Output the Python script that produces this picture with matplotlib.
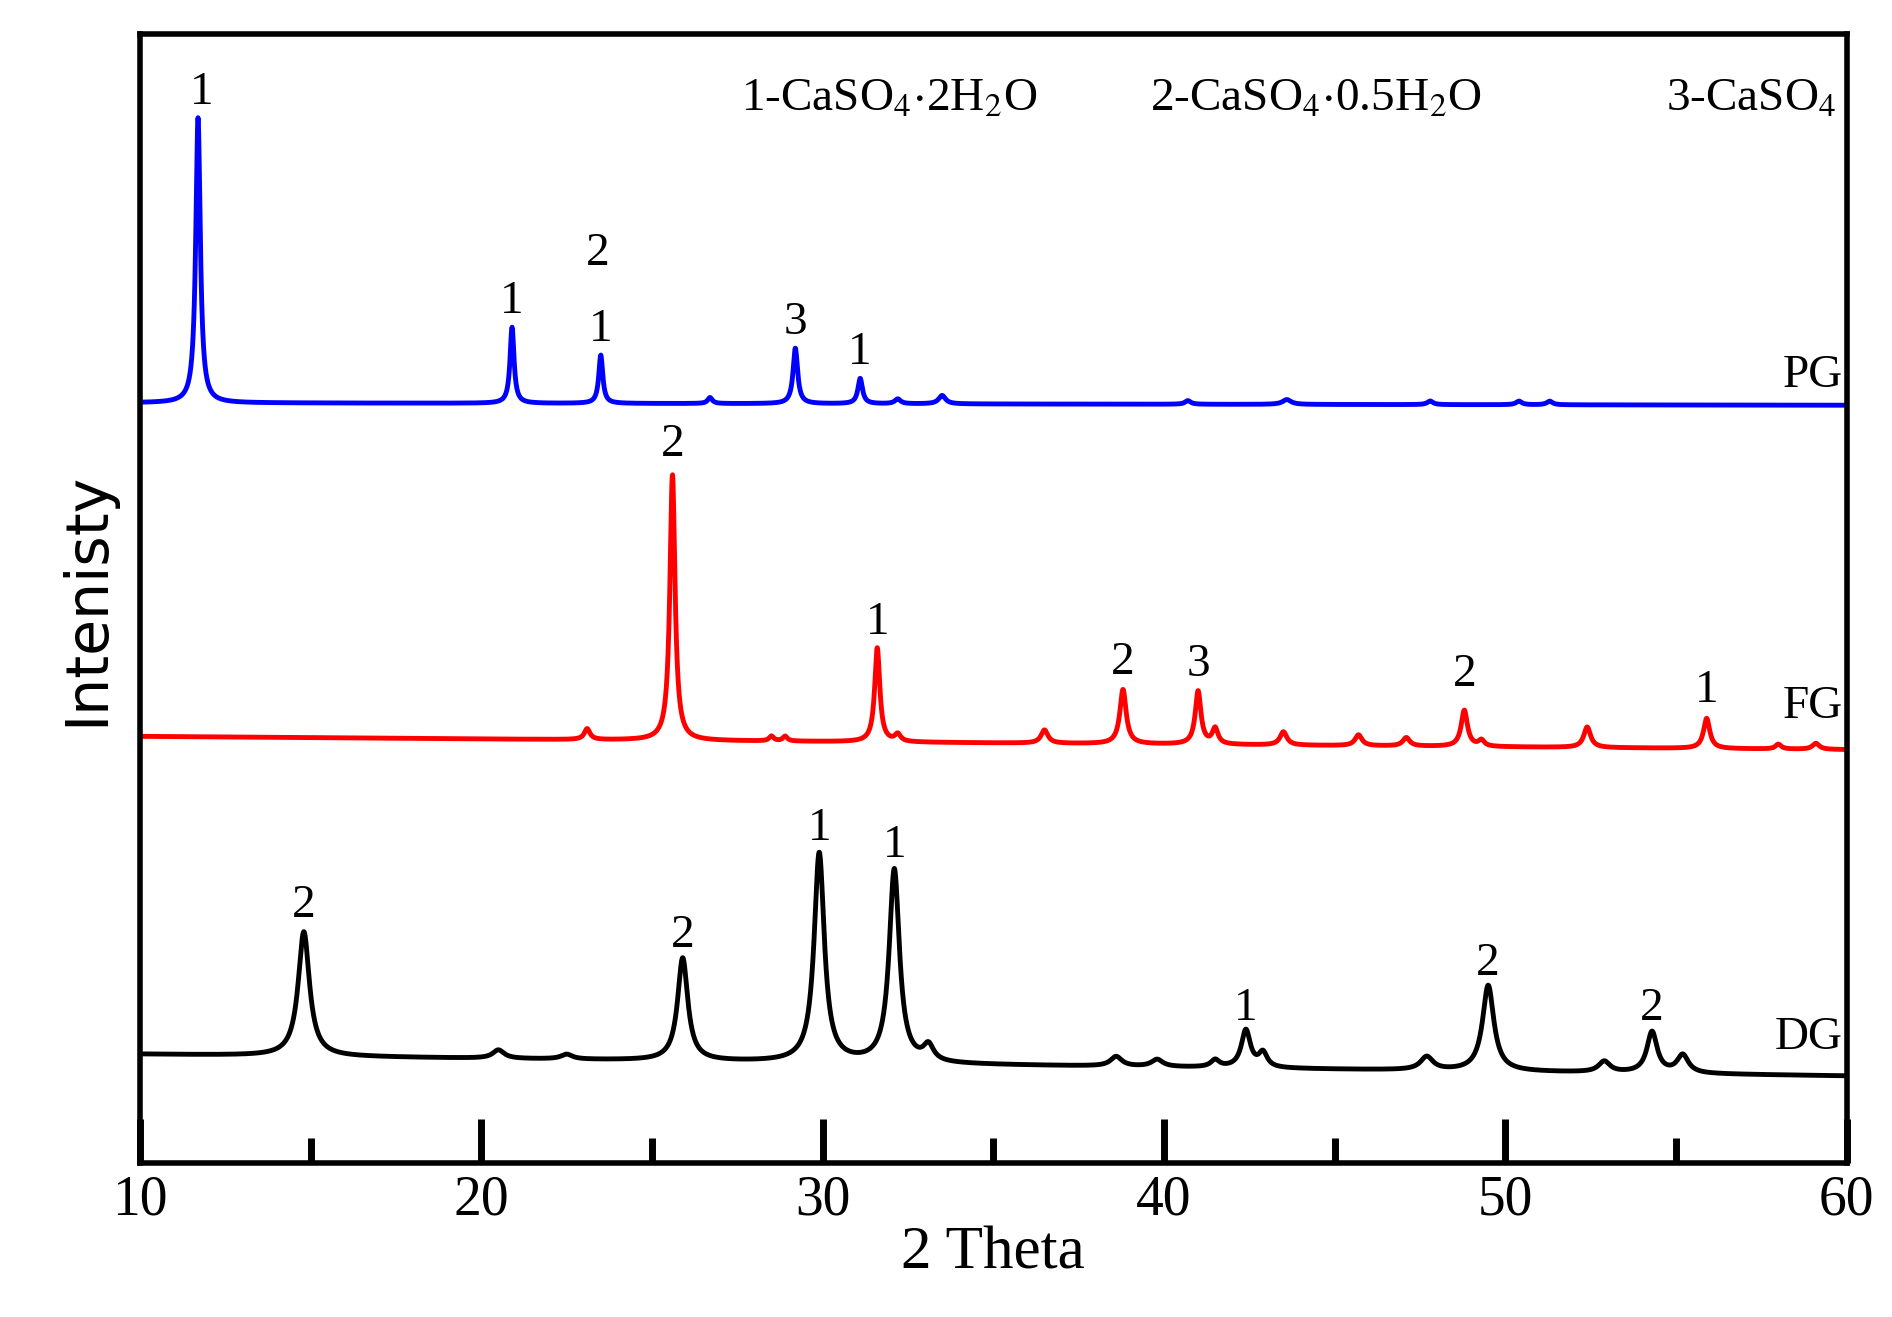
import numpy as np
import matplotlib
matplotlib.use("Agg")
import matplotlib.pyplot as plt

plt.rcParams["mathtext.fontset"] = "stix"

# peak lists: (2theta, height above baseline, half width)
pg_peaks = [(11.7, 236, 0.08), (20.9, 63, 0.07), (23.5, 40, 0.07), (26.7, 5, 0.08),
            (29.2, 46, 0.08), (31.1, 21, 0.08), (32.2, 4, 0.1), (33.5, 7, 0.12),
            (40.7, 3, 0.1), (43.6, 4, 0.15), (47.8, 3, 0.1), (50.4, 3, 0.1), (51.3, 3, 0.1)]
pg_base = (629, 627)

fg_peaks = [(23.1, 9, 0.1), (25.6, 220, 0.09), (28.5, 4, 0.08), (28.9, 4, 0.08),
            (31.6, 78, 0.09), (32.2, 6, 0.1), (36.5, 11, 0.12), (38.8, 45, 0.11),
            (41.0, 44, 0.1), (41.5, 13, 0.1), (43.5, 11, 0.12), (45.7, 9, 0.12),
            (47.1, 7, 0.12), (48.8, 30, 0.11), (49.3, 5, 0.1), (52.4, 17, 0.12),
            (55.9, 25, 0.11), (58.0, 4, 0.1), (59.1, 5, 0.12)]
fg_base = (353, 342)

dg_peaks = [(14.8, 103, 0.2), (20.5, 7, 0.2), (22.5, 4, 0.2), (25.9, 85, 0.18),
            (29.9, 173, 0.18), (32.1, 160, 0.18), (33.1, 13, 0.18), (38.6, 8, 0.2),
            (39.8, 6, 0.2), (41.5, 6, 0.15), (42.4, 31, 0.16), (42.9, 12, 0.15),
            (47.7, 11, 0.22), (49.5, 71, 0.2), (52.9, 9, 0.2), (54.3, 34, 0.18),
            (55.2, 15, 0.2)]
dg_base = (90, 72)

# phase labels: (x, y, text)
pg_labels = [(11.8, 868, "1"), (20.9, 695, "1"), (23.4, 735, "2"), (23.5, 672, "1"),
             (29.2, 678, "3"), (31.1, 653, "1")]
fg_labels = [(25.6, 577, "2"), (31.6, 429, "1"), (38.8, 396, "2"), (41.0, 395, "3"),
             (48.8, 386, "2"), (55.9, 373, "1")]
dg_labels = [(14.8, 195, "2"), (25.9, 170, "2"), (29.9, 259, "1"), (32.1, 245, "1"),
             (42.4, 110, "1"), (49.5, 147, "2"), (54.3, 110, "2")]

series = [("PG", pg_peaks, pg_base, "#0000ff", pg_labels, 634),
          ("FG", fg_peaks, fg_base, "#ff0000", fg_labels, 360),
          ("DG", dg_peaks, dg_base, "black", dg_labels, 86)]

x = np.linspace(10, 60, 6000)


def pattern(peaks, base):
    y = np.linspace(base[0], base[1], x.size)
    for c, h, w in peaks:
        y = y + h / (1 + ((x - c) / w) ** 2)
    return y


fig = plt.figure(figsize=(18.92, 13.17), dpi=100)
ax = fig.add_axes([0.074, 0.117, 0.902, 0.857])
serif = "Liberation Serif"

for name, peaks, base, color, labels, name_y in series:
    ax.plot(x, pattern(peaks, base), color=color, lw=3.5)
    for lx, ly, t in labels:
        ax.text(lx, ly, t, ha="center", va="bottom", fontsize=34, family=serif)
    ax.text(59.9, name_y, name, ha="right", va="bottom", fontsize=34, family=serif)

ax.text(36.3, 880, r"1-CaSO$_4$$\cdot$2H$_2$O", ha="right", va="center", fontsize=34, family=serif)
ax.text(49.3, 880, r"2-CaSO$_4$$\cdot$0.5H$_2$O", ha="right", va="center", fontsize=34, family=serif)
ax.text(59.7, 880, r"3-CaSO$_4$", ha="right", va="center", fontsize=34, family=serif)

ax.set_xlim(10, 60)
ax.set_ylim(0, 934)
ax.set_xticks([10, 20, 30, 40, 50, 60])
ax.set_xticks([15, 25, 35, 45, 55], minor=True)
ax.tick_params(axis="x", which="major", direction="in", length=32, width=5, labelsize=40, pad=8)
ax.tick_params(axis="x", which="minor", direction="in", length=18, width=5)
for lab in ax.get_xticklabels():
    lab.set_family(serif)
ax.set_yticks([])
for sp in ax.spines.values():
    sp.set_linewidth(4)
ax.set_xlabel("2 Theta", fontsize=44, family=serif, labelpad=0)
ax.set_ylabel("Intenisty", fontsize=42, family="DejaVu Sans", labelpad=18)

fig.savefig("out.png", dpi=100)
